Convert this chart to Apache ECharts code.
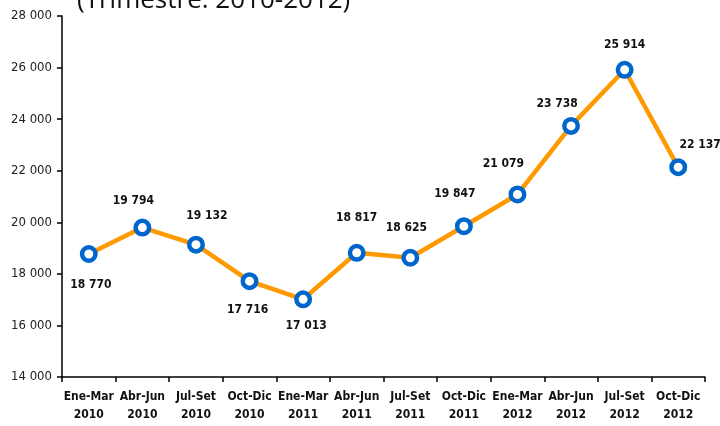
<!DOCTYPE html>
<html>
<head>
<meta charset="utf-8">
<script src="https://cdn.jsdelivr.net/npm/echarts@6/dist/echarts.min.js"></script>
<style>
  html, body { margin: 0; padding: 0; background: #fff; }
  #chart { width: 720px; height: 426px; }
</style>
</head>
<body>
<div id="chart"></div>
<script>
// trimestres 2010-2012
const quarters = ['Ene-Mar\n2010', 'Abr-Jun\n2010', 'Jul-Set\n2010', 'Oct-Dic\n2010',
  'Ene-Mar\n2011', 'Abr-Jun\n2011', 'Jul-Set\n2011', 'Oct-Dic\n2011',
  'Ene-Mar\n2012', 'Abr-Jun\n2012', 'Jul-Set\n2012', 'Oct-Dic\n2012']
const values = [18770, 19794, 19132, 17716, 17013, 18817, 18625, 19847, 21079, 23738, 25914, 22137]
const yTicks = [14000, 28000, 2000] // min, max, interval

// desplazamiento de cada etiqueta respecto al punto
const labelOffsets = [[2, 31], [-9, -27], [11, -29], [-2, 29], [3, 27], [0, -35],
  [-4, -30], [-9, -32], [-14, -31], [-14, -22], [0, -25], [22, -22]]

const narrow = "'DejaVu Sans Condensed', 'Liberation Sans Narrow', sans-serif"
const fmt = v => String(v).replace(/\B(?=(\d{3})+(?!\d))/g, ' ')

const chart = echarts.init(document.getElementById('chart'))

const option = {
  animation: false,
  graphic: [{
    type: 'text',
    left: 77,
    top: -12,
    style: {
      text: '(Trimestre: 2010-2012)',
      font: "26px 'Open Sans', sans-serif",
      fill: '#111'
    }
  }],
  grid: { left: 62, right: 15, top: 16, bottom: 49 },
  xAxis: {
    type: 'category',
    data: quarters,
    boundaryGap: true,
    axisLine: { lineStyle: { color: '#000', width: 1.5 } },
    axisTick: { show: true, length: 5, lineStyle: { color: '#000', width: 1.5 } },
    axisLabel: {
      interval: 0,
      margin: 11,
      color: '#111',
      fontFamily: narrow,
      fontWeight: 'bold',
      fontSize: 12,
      lineHeight: 18
    }
  },
  yAxis: {
    type: 'value',
    min: yTicks[0],
    max: yTicks[1],
    interval: yTicks[2],
    splitLine: { show: false },
    axisLine: { show: true, lineStyle: { color: '#000', width: 1.5 } },
    axisTick: { show: true, length: 5, lineStyle: { color: '#000', width: 1.5 } },
    axisLabel: {
      margin: 10,
      color: '#222',
      fontFamily: narrow,
      fontSize: 13,
      formatter: fmt
    }
  },
  series: [{
    type: 'line',
    data: values.map((v, i) => ({
      value: v,
      label: { offset: labelOffsets[i] }
    })),
    lineStyle: { color: '#FF9900', width: 4.5 },
    symbol: 'circle',
    symbolSize: 13.5,
    itemStyle: { color: '#fff', borderColor: '#0066CC', borderWidth: 4.5 },
    label: {
      show: true,
      position: 'inside',
      color: '#111',
      fontFamily: narrow,
      fontWeight: 'bold',
      fontSize: 12,
      formatter: p => fmt(p.value)
    },
    z: 3
  }]
}

chart.setOption(option)
</script>
</body>
</html>
